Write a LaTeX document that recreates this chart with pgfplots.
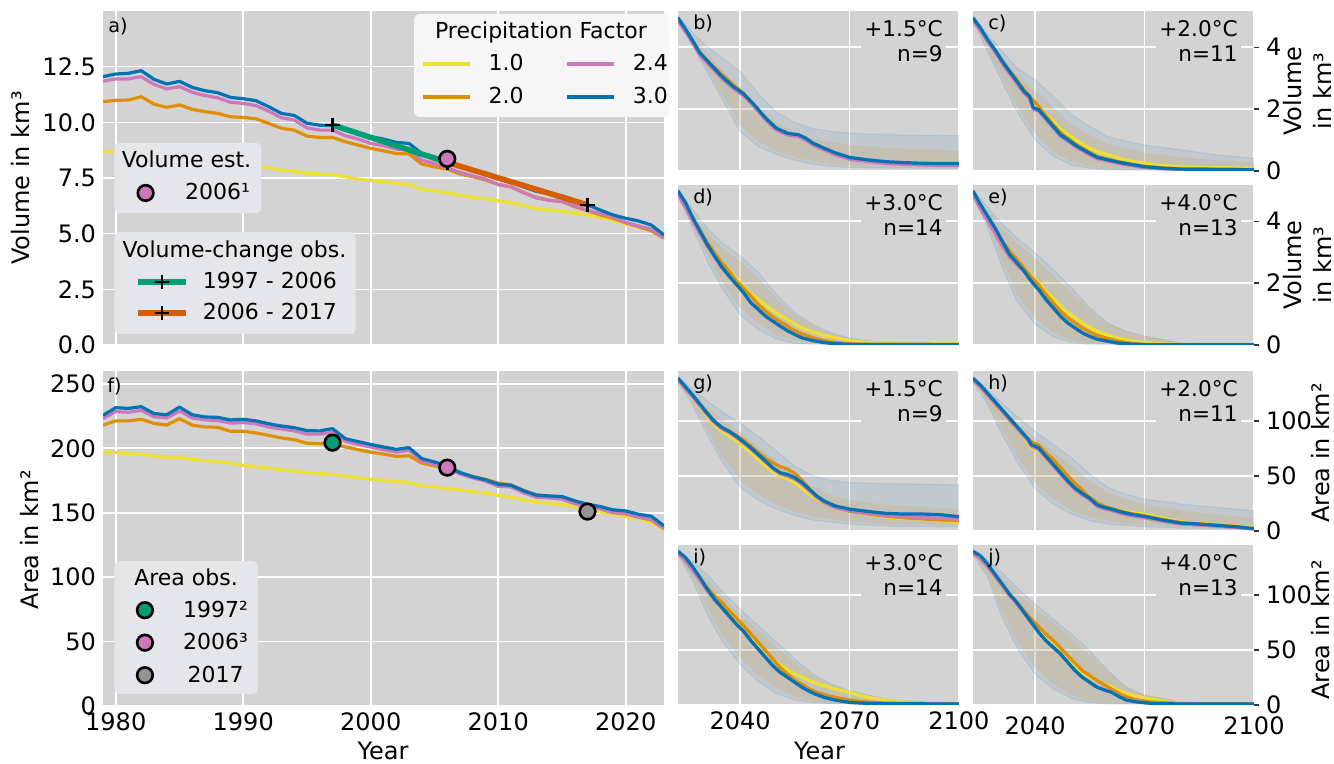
\documentclass[border=0pt]{standalone}
\usepackage{fontspec}
\setmainfont{DejaVu Sans}
\usepackage{pgfplots}
\usepackage{pgfplotstable}
\pgfplotsset{compat=1.18}

\definecolor{cyel}{HTML}{ECE133}
\definecolor{cora}{HTML}{DE8F05}
\definecolor{cpin}{HTML}{CC78BC}
\definecolor{cblu}{HTML}{0173B2}
\definecolor{cgrn}{HTML}{029E73}
\definecolor{cred}{HTML}{D55E00}
\definecolor{cgry}{HTML}{949494}
\definecolor{bg}{HTML}{D3D3D3}
\definecolor{legw}{HTML}{F6F6F6}
\definecolor{legg}{HTML}{E5E5EC}
\definecolor{bandO}{HTML}{2A78B0}
\definecolor{bandI}{HTML}{D0A858}

\tikzset{legf/.style={font=\fontsize{11}{13}\selectfont}}

% volume and area, 1979-2023, one column per precipitation factor
\pgfplotstableread{
yr   y10  y20   y24   y30
1979 8.68 10.93 11.85 12.05
1980 8.72 10.99 11.95 12.17
1981 8.72 11.00 11.95 12.20
1982 8.68 11.15 12.05 12.32
1983 8.58 10.82 11.70 11.93
1984 8.46 10.67 11.50 11.72
1985 8.46 10.78 11.60 11.84
1986 8.34 10.58 11.35 11.57
1987 8.23 10.48 11.20 11.42
1988 8.19 10.40 11.10 11.33
1989 8.10 10.25 10.90 11.12
1990 8.07 10.22 10.85 11.06
1991 8.04 10.16 10.75 10.97
1992 7.96 9.95  10.50 10.70
1993 7.86 9.73  10.20 10.40
1994 7.81 9.65  10.10 10.31
1995 7.71 9.38  9.75  9.96
1996 7.68 9.32  9.65  9.87
1997 7.65 9.32  9.65  9.85
1998 7.56 9.13  9.40  9.65
1999 7.45 8.98  9.25  9.50
2000 7.39 8.83  9.05  9.35
2001 7.33 8.72  8.95  9.25
2002 7.26 8.60  8.80  9.10
2003 7.21 8.58  8.75  9.05
2004 6.99 8.13  8.30  8.60
2005 6.92 8.00  8.15  8.45
2006 6.84 7.90  7.95  8.25
2007 6.73 7.68  7.75  8.00
2008 6.63 7.56  7.60  7.85
2009 6.57 7.41  7.45  7.70
2010 6.47 7.21  7.20  7.45
2011 6.39 7.10  7.10  7.35
2012 6.26 6.84  6.85  7.10
2013 6.12 6.63  6.60  6.90
2014 6.06 6.50  6.50  6.80
2015 6.02 6.44  6.45  6.70
2016 5.91 6.21  6.25  6.50
2017 5.84 6.03  6.05  6.30
2018 5.73 5.84  5.90  6.06
2019 5.61 5.69  5.75  5.84
2020 5.43 5.49  5.50  5.69
2021 5.31 5.31  5.35  5.57
2022 5.16 5.13  5.20  5.39
2023 4.79 4.79  4.80  4.94
}\volA

\pgfplotstableread{
yr   y10   y20   y24   y30
1979 196.7 218.0 223.0 225.6
1980 196.7 221.3 228.5 231.5
1981 195.9 221.3 228.0 231.0
1982 195.4 222.5 229.5 232.3
1983 194.0 219.3 224.5 227.0
1984 192.8 218.0 223.5 226.0
1985 193.0 223.0 229.0 232.0
1986 191.5 218.0 223.5 226.0
1987 190.4 216.6 222.0 224.3
1988 189.6 216.3 221.5 224.0
1989 188.4 213.2 219.5 222.0
1990 186.8 213.2 220.0 222.5
1991 185.8 211.9 219.0 221.3
1992 184.7 210.0 216.5 219.0
1993 183.2 208.0 215.0 217.3
1994 182.4 206.7 213.5 216.0
1995 181.1 204.0 211.0 213.7
1996 180.6 203.6 211.0 213.5
1997 179.8 203.6 212.5 215.3
1998 178.5 201.0 205.5 207.5
1999 177.2 199.0 203.0 205.2
2000 176.0 197.0 201.0 203.0
2001 175.2 195.5 199.0 201.0
2002 174.1 193.7 197.0 199.2
2003 173.4 194.2 198.5 200.5
2004 170.8 188.5 190.0 192.0
2005 170.0 186.4 187.5 189.4
2006 168.7 184.6 184.5 186.3
2007 167.7 180.6 180.0 181.2
2008 166.4 178.0 177.0 178.0
2009 165.0 176.0 174.5 175.5
2010 163.5 173.0 170.5 172.1
2011 162.2 171.6 170.0 171.3
2012 159.9 167.3 165.5 167.0
2013 158.4 163.9 162.0 163.6
2014 157.3 163.0 161.5 163.0
2015 156.6 162.0 160.5 162.6
2016 154.5 158.7 157.0 159.2
2017 152.7 156.0 154.5 156.6
2018 150.6 153.5 153.0 154.8
2019 148.8 151.0 150.0 152.2
2020 147.0 149.6 149.0 151.4
2021 145.0 147.0 146.5 148.8
2022 142.4 144.5 144.5 147.3
2023 136.7 138.0 137.5 139.8
}\areaF

\pgfplotsset{
  base/.style={scale only axis, anchor=south west,
    axis background/.style={fill=bg},
    axis line style={draw=none},
    grid=major, major grid style={white, line width=0.8pt},
    tick style={draw=none},
    tick label style={font=\fontsize{12}{14}\selectfont},
    /pgf/number format/assume math mode=true,
    /pgf/number format/1000 sep={}},
  geoA/.style={at={(51.5pt,209.5pt)}, anchor=south west, scale only axis,
    width=280.5pt, height=167pt, xmin=1979, xmax=2023, ymin=0, ymax=15},
  geoF/.style={at={(51.5pt,29pt)}, anchor=south west, scale only axis,
    width=280.5pt, height=167.5pt, xmin=1979, xmax=2023, ymin=0, ymax=260},
  ovl/.style={hide axis, clip=false},
  small/.style={base, width=140.5pt, height=80pt, xmin=2023, xmax=2100,
    xtick={2040,2070,2100}, xticklabels={}, yticklabels={}},
  vol/.style={ymin=0, ymax=5.17, ytick={0,2,4}},
  area/.style={ymin=0, ymax=145.5, ytick={0,50,100}},
  rside/.style={ytick pos=right, yticklabel pos=right, tick align=outside,
    major tick length=2.5pt, ytick style={draw=black!80, line width=0.6pt}},
  ly/.style={cyel, line width=1.6pt, line join=round},
  lo/.style={cora, line width=1.6pt, line join=round},
  lp/.style={cpin, line width=1.6pt, line join=round},
  lb/.style={cblu, line width=1.6pt, line join=round},
  bo/.style={draw=bandO, draw opacity=0.12, line width=0.6pt, fill=bandO, fill opacity=0.1},
  bi/.style={draw=none, fill=bandI, fill opacity=0.22},
  mk/.style={only marks, mark=*, mark size=3.9pt, mark options={fill=#1, draw=black, line width=1.3pt}},
}

\newcommand{\ann}[2]{\node[anchor=north east, align=right, fill=bg, inner sep=1.5pt,
  font=\fontsize{10.8}{12.5}\selectfont] at (rel axis cs:0.954,0.964) {#1\\n=#2};}
\newcommand{\plab}[1]{\node[anchor=north west, inner sep=0pt,
  font=\fontsize{9.6}{11}\selectfont] at (rel axis cs:0.053,0.975) {#1};}

\begin{document}
\begin{tikzpicture}
\useasboundingbox (0,0) rectangle (667pt,382pt);

% ---------- a) volume 1979-2023
\begin{axis}[geoA, base,
  xtick={1980,1990,...,2020}, xticklabels={},
  ytick={0,2.5,5,7.5,10,12.5},
  yticklabel style={/pgf/number format/.cd, fixed, fixed zerofill, precision=1}]
\addplot[ly] table[x=yr, y=y10] {\volA};
\addplot[lo] table[x=yr, y=y20] {\volA};
\addplot[lp] table[x=yr, y=y24] {\volA};
\addplot[lb] table[x=yr, y=y30] {\volA};
\addplot[cgrn, line width=2.8pt, mark=+, mark size=3.6pt, mark options={black, line width=1.25pt}]
  coordinates {(1997,9.88) (2006,8.2)};
\addplot[cred, line width=2.8pt, mark=+, mark size=3.6pt, mark options={black, line width=1.25pt}]
  coordinates {(2006,8.2) (2017,6.29)};
\addplot[mk=cpin] coordinates {(2006,8.36)};
\node[anchor=north west, inner sep=0pt, font=\fontsize{9.6}{11}\selectfont]
  at (rel axis cs:0.009,0.979) {a)};
\end{axis}

\begin{axis}[geoA, ovl,
  legend columns=2,
  legend style={at={(axis description cs:0.5668,0.7919)}, anchor=west, draw=none, fill=none,
    inner sep=0pt, legf, row sep=7.5pt, column sep=8.5pt,
    nodes={inner sep=0pt, text height=8pt, text depth=1pt},
    /tikz/every even column/.append style={column sep=21pt}},
  legend image code/.code={\draw[#1] (0pt,0pt) -- (23.5pt,0pt);}]
\fill[legw, rounded corners=2.5pt] (axis description cs:0.5544,0.6826) rectangle (axis description cs:1.0089,0.9910);
\node[anchor=base, legf] at (axis description cs:0.7807,0.9162) {Precipitation Factor};
\addlegendimage{cyel, line width=1.6pt}\addlegendentry{1.0}
\addlegendimage{cpin, line width=1.6pt}\addlegendentry{2.4}
\addlegendimage{cora, line width=1.6pt}\addlegendentry{2.0}
\addlegendimage{cblu, line width=1.6pt}\addlegendentry{3.0}
\end{axis}

\begin{axis}[geoA, ovl,
  legend style={at={(axis description cs:0.0613,0.4551)}, anchor=west, draw=none, fill=none,
    inner sep=0pt, legf, column sep=15.9pt,
    nodes={inner sep=0pt, text height=8pt, text depth=1pt}},
  legend image code/.code={\draw[#1] plot coordinates {(0pt,0pt)};}]
\fill[legg, rounded corners=2.5pt] (axis description cs:0.0205,0.3952) rectangle (axis description cs:0.2825,0.6048);
\node[anchor=base, legf] at (axis description cs:0.1488,0.5299) {Volume est.};
\addlegendimage{mk=cpin}
\addlegendentry{2006¹}
\end{axis}

\begin{axis}[geoA, ovl,
  legend style={at={(axis description cs:0.0570,0.1422)}, anchor=west, draw=none, fill=none,
    inner sep=0pt, legf, row sep=6.5pt, column sep=7pt,
    nodes={inner sep=0pt, text height=8pt, text depth=1pt}},
  legend image code/.code={\draw[#1] (0pt,0pt) -- (24pt,0pt);
    \draw[#1, only marks] plot coordinates {(12pt,0pt)};}]
\fill[legg, rounded corners=2.5pt] (axis description cs:0.0205,0.0329) rectangle (axis description cs:0.4501,0.3383);
\node[anchor=base, legf] at (axis description cs:0.2344,0.2605) {Volume-change obs.};
\addlegendimage{cgrn, line width=2.8pt, mark=+, mark size=3.6pt, mark options={black, line width=1.25pt}}
\addlegendentry{1997 - 2006}
\addlegendimage{cred, line width=2.8pt, mark=+, mark size=3.6pt, mark options={black, line width=1.25pt}}
\addlegendentry{2006 - 2017}
\end{axis}

% ---------- f) area 1979-2023
\begin{axis}[geoF, base,
  xtick={1980,1990,...,2020},
  ytick={0,50,...,250}]
\addplot[ly] table[x=yr, y=y10] {\areaF};
\addplot[lo] table[x=yr, y=y20] {\areaF};
\addplot[lp] table[x=yr, y=y24] {\areaF};
\addplot[lb] table[x=yr, y=y30] {\areaF};
\addplot[mk=cgrn] coordinates {(1997,204.4)};
\addplot[mk=cpin] coordinates {(2006,185)};
\addplot[mk=cgry] coordinates {(2017,150.9)};
\node[anchor=north west, inner sep=0pt, font=\fontsize{9.6}{11}\selectfont]
  at (rel axis cs:0.007,0.982) {f)};
\end{axis}

\begin{axis}[geoF, ovl,
  legend style={at={(axis description cs:0.0601,0.189)}, anchor=west, draw=none, fill=none,
    inner sep=0pt, legf, row sep=7.25pt, column sep=15.2pt,
    nodes={inner sep=0pt, text height=8pt, text depth=1pt}},
  legend image code/.code={\draw[#1] plot coordinates {(0pt,0pt)};}]
\fill[legg, rounded corners=2.5pt] (axis description cs:0.0205,0.0358) rectangle (axis description cs:0.2758,0.4328);
\node[anchor=base, legf] at (axis description cs:0.1480,0.3582) {Area obs.};
\addlegendimage{mk=cgrn}
\addlegendentry{1997²}
\addlegendimage{mk=cpin}
\addlegendentry{2006³}
\addlegendimage{mk=cgry}
\addlegendentry{2017}
\end{axis}

% ---------- b) volume +1.5
\begin{axis}[small, vol, at={(339pt,296.5pt)}]
\addplot[bo] coordinates {(2023,5.0)(2027,4.47)(2031,4.02)(2035,3.66)(2040,3.22)(2045,2.5)(2050,1.9)(2055,1.57)(2060,1.37)(2065,1.28)(2070,1.22)(2080,1.17)(2090,1.15)(2100,1.14)(2100,0.09)(2090,0.09)(2080,0.1)(2070,0.11)(2065,0.15)(2060,0.22)(2055,0.35)(2050,0.54)(2045,0.79)(2040,1.28)(2035,2.35)(2031,3.2)(2027,4.05)(2023,4.84)} -- cycle;
\addplot[bi] coordinates {(2023,4.97)(2027,4.35)(2031,3.8)(2035,3.3)(2040,2.7)(2045,2.05)(2050,1.55)(2055,1.25)(2060,1.05)(2065,0.93)(2070,0.85)(2080,0.75)(2090,0.7)(2100,0.65)(2100,0.12)(2090,0.12)(2080,0.14)(2070,0.17)(2065,0.22)(2060,0.3)(2055,0.45)(2050,0.65)(2045,0.95)(2040,1.45)(2035,2.5)(2031,3.3)(2027,4.1)(2023,4.86)} -- cycle;
\addplot[ly] coordinates {(2023,4.88)(2026,4.35)(2029,3.77)(2032,3.41)(2035,3.04)(2038,2.72)(2041,2.46)(2044,2.09)(2047,1.68)(2050,1.35)(2053,1.19)(2056,1.13)(2058,1.02)(2060,0.86)(2063,0.7)(2066,0.55)(2070,0.4)(2075,0.31)(2080,0.25)(2085,0.22)(2090,0.2)(2095,0.19)(2100,0.19)};
\addplot[lo] coordinates {(2023,4.9)(2026,4.38)(2029,3.8)(2032,3.45)(2035,3.12)(2038,2.8)(2041,2.5)(2044,2.12)(2047,1.7)(2050,1.37)(2053,1.21)(2056,1.15)(2058,1.04)(2060,0.88)(2063,0.72)(2066,0.57)(2070,0.42)(2075,0.33)(2080,0.27)(2085,0.24)(2090,0.22)(2095,0.21)(2100,0.21)};
\addplot[lp] coordinates {(2023,4.85)(2026,4.33)(2029,3.74)(2032,3.37)(2035,2.99)(2038,2.68)(2041,2.43)(2044,2.06)(2047,1.65)(2050,1.32)(2053,1.16)(2056,1.11)(2058,1.0)(2060,0.84)(2063,0.68)(2066,0.53)(2070,0.38)(2075,0.3)(2080,0.24)(2085,0.21)(2090,0.19)(2095,0.18)(2100,0.18)};
\addplot[lb] coordinates {(2023,4.95)(2026,4.41)(2029,3.82)(2032,3.44)(2035,3.06)(2038,2.74)(2041,2.49)(2044,2.12)(2047,1.71)(2050,1.38)(2053,1.22)(2056,1.17)(2058,1.06)(2060,0.9)(2063,0.74)(2066,0.59)(2070,0.44)(2075,0.36)(2080,0.3)(2085,0.27)(2090,0.25)(2095,0.24)(2100,0.24)};
\plab{b)}\ann{+1.5°C}{9}
\end{axis}

% ---------- c) volume +2.0
\begin{axis}[small, vol, rside, yticklabels={0,2,4}, at={(486.5pt,296.5pt)}]
\addplot[bo] coordinates {(2023,4.99)(2027,4.42)(2031,3.87)(2035,3.33)(2040,2.95)(2045,2.41)(2050,1.82)(2055,1.44)(2060,1.11)(2065,0.96)(2070,0.84)(2080,0.68)(2090,0.52)(2100,0.41)(2100,0.02)(2090,0.02)(2080,0.02)(2070,0.03)(2065,0.03)(2060,0.04)(2055,0.09)(2050,0.19)(2045,0.48)(2040,1.0)(2035,1.93)(2031,2.87)(2027,3.85)(2023,4.85)} -- cycle;
\addplot[bi] coordinates {(2023,4.95)(2027,4.3)(2031,3.7)(2035,3.1)(2040,2.6)(2045,2.05)(2050,1.5)(2055,1.15)(2060,0.88)(2065,0.72)(2070,0.6)(2080,0.45)(2090,0.35)(2100,0.28)(2100,0.03)(2090,0.03)(2080,0.04)(2070,0.05)(2065,0.06)(2060,0.08)(2055,0.15)(2050,0.3)(2045,0.62)(2040,1.2)(2035,2.1)(2031,3.0)(2027,3.95)(2023,4.87)} -- cycle;
\addplot[ly] coordinates {(2023,4.9)(2025,4.58)(2027,4.2)(2029,3.87)(2031,3.5)(2033,3.18)(2035,2.87)(2037,2.55)(2039,2.3)(2041,2.08)(2043,1.82)(2045,1.6)(2047,1.36)(2049,1.17)(2051,1.01)(2053,0.86)(2055,0.74)(2057,0.63)(2060,0.52)(2063,0.41)(2066,0.32)(2070,0.25)(2075,0.17)(2080,0.13)(2090,0.11)(2100,0.09)};
\addplot[lo] coordinates {(2023,4.92)(2025,4.6)(2027,4.22)(2029,3.9)(2031,3.55)(2033,3.24)(2035,2.95)(2037,2.62)(2039,2.35)(2040,2.22)(2041,2.08)(2043,1.78)(2045,1.5)(2047,1.24)(2049,1.06)(2051,0.88)(2053,0.74)(2055,0.6)(2057,0.47)(2060,0.38)(2063,0.3)(2066,0.23)(2070,0.15)(2075,0.1)(2080,0.07)(2090,0.06)(2100,0.05)};
\addplot[lp] coordinates {(2023,4.85)(2025,4.55)(2027,4.18)(2029,3.85)(2031,3.48)(2033,3.15)(2035,2.84)(2037,2.51)(2038.5,2.35)(2039.5,2.0)(2041,1.93)(2043,1.66)(2045,1.39)(2047,1.12)(2049,0.96)(2051,0.79)(2053,0.65)(2055,0.52)(2057,0.4)(2060,0.32)(2063,0.24)(2066,0.18)(2070,0.11)(2075,0.07)(2080,0.05)(2090,0.04)(2100,0.03)};
\addplot[lb] coordinates {(2023,4.95)(2025,4.63)(2027,4.25)(2029,3.92)(2031,3.55)(2033,3.22)(2035,2.9)(2037,2.57)(2038.5,2.41)(2039.5,2.05)(2041,1.98)(2043,1.71)(2045,1.44)(2047,1.17)(2049,1.01)(2051,0.84)(2053,0.7)(2055,0.57)(2057,0.44)(2060,0.36)(2063,0.28)(2066,0.22)(2070,0.14)(2075,0.09)(2080,0.06)(2090,0.05)(2100,0.04)};
\plab{c)}\ann{+2.0°C}{11}
\end{axis}

% ---------- d) volume +3.0
\begin{axis}[small, vol, at={(339pt,209.5pt)}]
\addplot[bo] coordinates {(2023,5.04)(2027,4.39)(2031,3.78)(2035,3.31)(2040,2.88)(2045,2.34)(2050,1.63)(2055,1.04)(2060,0.66)(2065,0.39)(2070,0.23)(2080,0.05)(2090,0.03)(2100,0.03)(2100,0.01)(2090,0.01)(2080,0.01)(2070,0.01)(2065,0.01)(2060,0.02)(2055,0.05)(2050,0.19)(2045,0.5)(2040,0.98)(2035,1.85)(2031,2.71)(2027,3.79)(2023,4.88)} -- cycle;
\addplot[bi] coordinates {(2023,5.0)(2027,4.3)(2031,3.65)(2035,3.15)(2040,2.7)(2045,2.15)(2050,1.5)(2055,0.98)(2060,0.63)(2065,0.38)(2070,0.23)(2080,0.06)(2090,0.03)(2100,0.03)(2100,0.02)(2090,0.02)(2080,0.02)(2070,0.02)(2065,0.03)(2060,0.06)(2055,0.14)(2050,0.33)(2045,0.68)(2040,1.2)(2035,2.05)(2031,2.9)(2027,3.9)(2023,4.9)} -- cycle;
\addplot[ly] coordinates {(2023,4.9)(2025,4.53)(2027,4.08)(2029,3.68)(2031,3.3)(2033,2.97)(2035,2.66)(2037,2.41)(2039,2.12)(2041,1.87)(2043,1.65)(2045,1.47)(2047,1.29)(2049,1.11)(2051,0.96)(2053,0.82)(2055,0.68)(2057,0.55)(2060,0.42)(2063,0.31)(2066,0.23)(2070,0.14)(2075,0.08)(2080,0.04)(2090,0.03)(2100,0.03)};
\addplot[lo] coordinates {(2023,4.92)(2025,4.55)(2027,4.1)(2029,3.7)(2031,3.32)(2033,2.98)(2035,2.66)(2037,2.39)(2039,2.06)(2041,1.83)(2043,1.58)(2045,1.31)(2047,1.09)(2049,0.91)(2051,0.75)(2053,0.61)(2055,0.46)(2057,0.36)(2060,0.23)(2063,0.14)(2066,0.08)(2070,0.04)(2075,0.02)(2100,0.02)};
\addplot[lp] coordinates {(2023,4.85)(2025,4.45)(2027,4.01)(2029,3.6)(2031,3.2)(2033,2.85)(2035,2.5)(2037,2.22)(2039,1.95)(2041,1.68)(2043,1.36)(2045,1.14)(2047,0.93)(2049,0.77)(2051,0.61)(2053,0.46)(2055,0.34)(2057,0.23)(2060,0.14)(2063,0.08)(2066,0.04)(2070,0.02)(2100,0.01)};
\addplot[lb] coordinates {(2023,4.98)(2025,4.61)(2027,4.12)(2029,3.69)(2031,3.25)(2033,2.88)(2035,2.52)(2037,2.23)(2039,1.96)(2041,1.69)(2043,1.36)(2045,1.15)(2047,0.93)(2049,0.77)(2051,0.61)(2053,0.46)(2055,0.34)(2057,0.23)(2060,0.14)(2063,0.08)(2066,0.04)(2070,0.02)(2100,0.01)};
\plab{d)}\ann{+3.0°C}{14}
\end{axis}

% ---------- e) volume +4.0
\begin{axis}[small, vol, rside, yticklabels={0,2,4}, at={(486.5pt,209.5pt)}]
\addplot[bo] coordinates {(2023,5.04)(2027,4.45)(2031,3.9)(2035,3.47)(2040,2.98)(2045,2.44)(2050,1.85)(2055,1.2)(2060,0.71)(2065,0.44)(2070,0.28)(2080,0.06)(2090,0.02)(2100,0.02)(2100,0.01)(2090,0.01)(2080,0.01)(2070,0.01)(2065,0.01)(2060,0.01)(2055,0.02)(2050,0.08)(2045,0.27)(2040,0.67)(2035,1.42)(2031,2.5)(2027,3.79)(2023,4.88)} -- cycle;
\addplot[bi] coordinates {(2023,5.0)(2027,4.35)(2031,3.75)(2035,3.3)(2040,2.8)(2045,2.25)(2050,1.7)(2055,1.12)(2060,0.7)(2065,0.45)(2070,0.3)(2080,0.08)(2090,0.03)(2100,0.02)(2100,0.02)(2090,0.02)(2080,0.02)(2070,0.02)(2065,0.02)(2060,0.02)(2055,0.05)(2050,0.15)(2045,0.4)(2040,0.85)(2035,1.65)(2031,2.7)(2027,3.9)(2023,4.9)} -- cycle;
\addplot[ly] coordinates {(2023,4.9)(2025,4.48)(2027,4.1)(2029,3.72)(2031,3.33)(2033,3.0)(2035,2.74)(2037,2.48)(2039,2.23)(2041,2.01)(2043,1.74)(2045,1.5)(2047,1.25)(2049,1.04)(2051,0.88)(2053,0.71)(2055,0.57)(2057,0.44)(2060,0.31)(2063,0.21)(2066,0.14)(2070,0.08)(2075,0.03)(2080,0.02)(2100,0.02)};
\addplot[lo] coordinates {(2023,4.92)(2025,4.5)(2027,4.12)(2029,3.75)(2031,3.36)(2033,3.04)(2035,2.77)(2037,2.48)(2039,2.19)(2041,1.94)(2043,1.63)(2045,1.36)(2047,1.09)(2049,0.88)(2051,0.71)(2053,0.55)(2055,0.42)(2057,0.31)(2060,0.21)(2063,0.12)(2066,0.06)(2070,0.02)(2075,0.01)(2100,0.01)};
\addplot[lp] coordinates {(2023,4.85)(2025,4.4)(2027,4.01)(2029,3.62)(2031,3.2)(2033,2.85)(2035,2.6)(2037,2.37)(2039,2.05)(2041,1.78)(2043,1.46)(2045,1.19)(2047,0.92)(2049,0.7)(2051,0.54)(2053,0.38)(2055,0.27)(2057,0.18)(2060,0.11)(2063,0.05)(2066,0.03)(2070,0.01)(2100,0.01)};
\addplot[lb] coordinates {(2023,4.98)(2025,4.55)(2027,4.17)(2029,3.79)(2031,3.36)(2033,2.93)(2035,2.66)(2037,2.39)(2039,2.06)(2041,1.79)(2043,1.47)(2045,1.2)(2047,0.93)(2049,0.71)(2051,0.55)(2053,0.39)(2055,0.28)(2057,0.19)(2060,0.12)(2063,0.06)(2066,0.03)(2070,0.01)(2100,0.01)};
\plab{e)}\ann{+4.0°C}{13}
\end{axis}

% ---------- g) area +1.5
\begin{axis}[small, area, at={(339pt,116.5pt)}]
\addplot[bo] coordinates {(2023,140.4)(2027,129.2)(2031,118.4)(2035,108.7)(2040,98.2)(2045,86.1)(2050,72.6)(2055,59)(2060,50)(2065,46)(2070,44)(2080,43)(2090,42.5)(2100,41.9)(2100,3.9)(2090,4.2)(2080,4.5)(2070,6.3)(2065,8)(2060,9.9)(2055,13.9)(2050,20)(2045,28)(2040,40)(2035,63.6)(2031,87.7)(2027,114.8)(2023,135.8)} -- cycle;
\addplot[bi] coordinates {(2023,139)(2027,126)(2031,113)(2035,102)(2040,90)(2045,77)(2050,63)(2055,50)(2060,40)(2065,33)(2070,28)(2080,24)(2090,22)(2100,20)(2100,5.5)(2090,6)(2080,6.5)(2070,8.5)(2065,10.5)(2060,13)(2055,17.5)(2050,24)(2045,33)(2040,46)(2035,68)(2031,92)(2027,117)(2023,136.5)} -- cycle;
\addplot[ly] coordinates {(2023,136.5)(2025,129)(2027,121.5)(2029,113)(2031,104.5)(2033,96.5)(2035,90.7)(2037,86.5)(2039,82.2)(2041,76.5)(2043,71)(2045,65)(2047,59)(2049,54)(2051,50)(2053,47.5)(2055,44)(2057,39)(2059,33.4)(2061,29)(2063,25.9)(2066,22)(2070,18.4)(2075,15)(2080,12.9)(2085,11.5)(2090,10.8)(2095,9.5)(2100,7.8)};
\addplot[lo] coordinates {(2023,137.5)(2025,130)(2027,122.5)(2029,114.5)(2031,106.5)(2033,99)(2035,94)(2037,91)(2039,87)(2041,82.5)(2043,77)(2045,71.5)(2047,66)(2049,62)(2051,58.4)(2053,56.3)(2055,52.4)(2057,46)(2059,38.5)(2061,31.5)(2063,26.5)(2066,21.5)(2070,18)(2075,15.5)(2080,13.5)(2085,12)(2090,11)(2095,10)(2100,9.3)};
\addplot[lp] coordinates {(2023,137)(2025,129.5)(2027,122)(2029,114)(2031,106)(2033,98.5)(2035,93)(2037,89.5)(2039,85)(2041,80)(2043,74.5)(2045,68.5)(2047,62.5)(2049,56.5)(2051,52)(2053,50)(2055,47)(2057,42.5)(2059,36.5)(2061,30.5)(2063,26)(2066,21.5)(2070,18.4)(2075,16)(2080,13.9)(2085,13)(2090,12.3)(2095,11.5)(2100,10.8)};
\addplot[lb] coordinates {(2023,139)(2025,131.3)(2027,123.8)(2029,115.4)(2031,107.2)(2033,99.7)(2035,94.3)(2037,90.7)(2039,86.1)(2041,81)(2043,75.6)(2045,69.6)(2047,63.6)(2049,57.5)(2051,53)(2053,51.5)(2055,48.5)(2057,44)(2059,38)(2061,31.9)(2063,27.4)(2066,22.9)(2070,19.9)(2075,17.8)(2080,16)(2085,15.4)(2090,15.4)(2095,14.8)(2100,13)};
\plab{g)}\ann{+1.5°C}{9}
\end{axis}

% ---------- h) area +2.0
\begin{axis}[small, area, rside, yticklabels={0,50,100}, at={(486.5pt,116.5pt)}]
\addplot[bo] coordinates {(2023,140.4)(2027,128.4)(2031,116.3)(2035,104.2)(2040,90.7)(2045,78.6)(2050,66.6)(2055,51.5)(2060,39.5)(2065,33.4)(2070,28.9)(2080,24.4)(2090,21.4)(2100,18.4)(2100,1.5)(2090,2.1)(2080,2.7)(2070,3.9)(2065,5)(2060,6.3)(2055,9.3)(2050,15.4)(2045,24.4)(2040,38.6)(2035,63.6)(2031,87.7)(2027,114.8)(2023,135.8)} -- cycle;
\addplot[bi] coordinates {(2023,139)(2027,125)(2031,111)(2035,99)(2040,85)(2045,72)(2050,59)(2055,45)(2060,35)(2065,29)(2070,24.5)(2080,19)(2090,15)(2100,12)(2100,2.5)(2090,3)(2080,4)(2070,5.5)(2065,7)(2060,9)(2055,12.5)(2050,19)(2045,29)(2040,44)(2035,68)(2031,92)(2027,117)(2023,136.5)} -- cycle;
\addplot[ly] coordinates {(2023,136.5)(2025,130.5)(2027,123)(2029,115.5)(2031,108)(2033,100.5)(2035,93)(2037,85.5)(2039,75.6)(2041,73)(2043,66)(2045,59)(2047,52)(2049,45)(2051,39)(2053,34)(2055,28.5)(2057,22.9)(2060,20.8)(2063,19)(2066,16.9)(2070,15.4)(2075,11.7)(2080,8.4)(2085,6.8)(2090,5.7)(2095,4.5)(2100,3.3)};
\addplot[lo] coordinates {(2023,137.5)(2025,131.5)(2027,124)(2029,116.5)(2031,109)(2033,101.5)(2035,94)(2037,87)(2039,81)(2041,78)(2043,71)(2045,65)(2047,57.5)(2049,50)(2051,43)(2053,37)(2055,30.4)(2057,25.9)(2059,22.5)(2061,20.5)(2063,18.5)(2066,16)(2070,13.8)(2075,10.5)(2080,7.8)(2085,6.5)(2090,5.3)(2095,4)(2100,2.4)};
\addplot[lp] coordinates {(2023,137)(2025,131)(2027,123.5)(2029,116)(2031,108.5)(2033,101)(2035,93.5)(2037,86)(2038,82.5)(2039,77)(2041,74)(2043,66.5)(2045,59)(2047,51.5)(2049,44)(2051,37.5)(2053,32.5)(2055,28.5)(2057,22.5)(2059,20)(2061,18.5)(2063,16.5)(2066,14)(2070,12)(2075,8.8)(2080,6.3)(2085,5.4)(2090,4.3)(2095,3.2)(2100,1.7)};
\addplot[lb] coordinates {(2023,138.9)(2025,132.8)(2027,125.3)(2029,117.8)(2031,110.2)(2033,102.7)(2035,95.2)(2037,87.7)(2038,84)(2039,78.6)(2041,75.6)(2043,68)(2045,60.5)(2047,53)(2049,45.5)(2051,38.9)(2053,34)(2055,29.8)(2057,23.8)(2059,21.4)(2061,19.9)(2063,17.8)(2066,15.4)(2070,13.3)(2075,9.9)(2080,7.2)(2085,6.3)(2090,5.1)(2095,3.9)(2100,2.1)};
\plab{h)}\ann{+2.0°C}{11}
\end{axis}

% ---------- i) area +3.0
\begin{axis}[small, area, xticklabels={2040,2070,2100}, at={(339pt,29.5pt)}]
\addplot[bo] coordinates {(2023,141.8)(2027,130.5)(2031,118.6)(2035,104)(2040,87.3)(2045,72.1)(2050,57)(2055,41.8)(2060,28.2)(2065,19.1)(2070,13)(2080,5.5)(2090,2.7)(2100,1.8)(2100,0.9)(2090,0.9)(2080,1)(2070,1.1)(2065,1.5)(2060,2.1)(2055,4.5)(2050,10.4)(2045,21.4)(2040,36.9)(2035,58.5)(2031,82.7)(2027,113)(2023,137.3)} -- cycle;
\addplot[bi] coordinates {(2023,140)(2027,127)(2031,114)(2035,100)(2040,83)(2045,68)(2050,53)(2055,39)(2060,27)(2065,18.5)(2070,12.5)(2080,5.5)(2090,2.8)(2100,1.8)(2100,1)(2090,1)(2080,1.1)(2070,1.3)(2065,2)(2060,3.5)(2055,7.5)(2050,15)(2045,27)(2040,43)(2035,64)(2031,88)(2027,116)(2023,137.8)} -- cycle;
\addplot[ly] coordinates {(2023,137)(2025,131)(2027,123)(2029,114.5)(2031,105.5)(2033,97.3)(2035,90.3)(2037,83.3)(2039,76.7)(2041,70)(2043,63)(2045,55.5)(2047,47.9)(2049,41.8)(2051,36.7)(2053,31.8)(2055,28.2)(2057,25.2)(2059,22.1)(2061,19.7)(2063,17.6)(2066,14.5)(2070,11.5)(2073,8.5)(2076,6.4)(2080,4.5)(2085,2.7)(2090,1.8)(2100,1.2)};
\addplot[lo] coordinates {(2023,138)(2025,132)(2027,124)(2029,115.5)(2031,106.5)(2033,99.4)(2035,93.3)(2037,85.8)(2039,79)(2041,72)(2043,64.5)(2045,57)(2047,49.4)(2049,41.8)(2051,34.2)(2053,28.2)(2055,22.7)(2057,18.5)(2059,14.5)(2061,11.5)(2063,9.4)(2066,7)(2070,4.5)(2075,2.7)(2080,1.8)(2100,1.2)};
\addplot[lp] coordinates {(2023,137.5)(2025,131)(2027,122.5)(2029,113.5)(2031,104)(2033,95.5)(2035,88)(2037,80.5)(2039,73)(2041,66.5)(2043,58)(2045,50.5)(2047,43)(2049,35.5)(2051,29.5)(2053,25)(2055,20.5)(2057,16)(2059,12.3)(2061,9.3)(2063,6.9)(2066,4.4)(2070,2.3)(2075,1.4)(2080,1.1)(2100,0.8)};
\addplot[lb] coordinates {(2023,139.7)(2025,134.2)(2027,125.8)(2029,116)(2031,105.5)(2033,96.4)(2035,88.8)(2037,81.2)(2039,73.6)(2041,67)(2043,58.5)(2045,50.9)(2047,43.3)(2049,35.8)(2051,29.7)(2053,25.2)(2055,20.6)(2057,16.1)(2059,12.4)(2061,9.4)(2063,7)(2066,4.5)(2070,2.4)(2075,1.5)(2080,1.2)(2100,0.9)};
\plab{i)}\ann{+3.0°C}{14}
\end{axis}

% ---------- j) area +4.0
\begin{axis}[small, area, rside, yticklabels={0,50,100}, xticklabels={2040,2070,2100}, at={(486.5pt,29.5pt)}]
\addplot[bo] coordinates {(2023,141.8)(2027,132)(2031,120.3)(2035,107)(2040,91.8)(2045,78.2)(2050,64.5)(2055,49.4)(2060,31.2)(2065,16.1)(2070,8.5)(2080,2.7)(2090,1.5)(2100,1.2)(2100,0.9)(2090,0.9)(2080,0.9)(2070,0.9)(2065,0.9)(2060,1)(2055,2.1)(2050,5.9)(2045,14.5)(2040,28.2)(2035,52.4)(2031,79.7)(2027,116)(2023,137.3)} -- cycle;
\addplot[bi] coordinates {(2023,140)(2027,128)(2031,116)(2035,103)(2040,88)(2045,75)(2050,61)(2055,46)(2060,30)(2065,17)(2070,9.5)(2080,3.5)(2090,1.6)(2100,1.2)(2100,1)(2090,1)(2080,1)(2070,1)(2065,1.1)(2060,1.5)(2055,3.5)(2050,9)(2045,19)(2040,34)(2035,58)(2031,85)(2027,118)(2023,137.8)} -- cycle;
\addplot[ly] coordinates {(2023,137)(2025,132.5)(2027,125)(2029,116.5)(2031,108)(2033,99.5)(2035,92)(2037,84)(2039,76.7)(2041,70)(2043,63)(2045,57)(2047,49.4)(2049,41.8)(2051,34.2)(2053,28.8)(2055,25.2)(2057,22.1)(2059,19.1)(2061,16.1)(2063,13)(2066,9.4)(2070,6.4)(2075,3.3)(2080,1.8)(2090,1.3)(2100,1.3)};
\addplot[lo] coordinates {(2023,138)(2025,133.5)(2027,126)(2029,117.5)(2031,109)(2033,100.5)(2035,93.5)(2037,85.5)(2039,78.2)(2041,71.2)(2043,64.5)(2045,58.5)(2047,51.8)(2049,44.8)(2051,37.9)(2053,31.2)(2055,26.7)(2057,22.1)(2059,18.5)(2061,14.5)(2063,10.6)(2065,7.6)(2068,4.5)(2072,2.7)(2080,1.3)(2100,1.1)};
\addplot[lp] coordinates {(2023,137.5)(2025,133)(2027,125.5)(2029,117)(2031,108.5)(2033,99.5)(2035,92)(2037,83.5)(2039,74.8)(2041,66)(2043,58.3)(2045,52.2)(2047,46.2)(2049,38.6)(2051,31)(2053,25)(2055,20.5)(2057,16.5)(2059,14)(2061,12)(2063,8)(2065,4.8)(2068,2.8)(2072,1.5)(2080,0.9)(2100,0.9)};
\addplot[lb] coordinates {(2023,139.7)(2025,135.8)(2027,128.2)(2029,119.1)(2031,110)(2033,100.9)(2035,93.3)(2037,84.2)(2039,75.2)(2041,66.1)(2043,58.5)(2045,52.4)(2047,46.4)(2049,38.8)(2051,31.2)(2053,25.2)(2055,20.6)(2057,16.1)(2059,13.6)(2061,11.5)(2063,7.6)(2065,4.5)(2068,2.7)(2072,1.5)(2080,0.9)(2100,0.9)};
\plab{j)}\ann{+4.0°C}{13}
\end{axis}

% ---------- axis labels
\node[rotate=90, font=\fontsize{12}{14}\selectfont] at (10.5pt,293pt) {Volume in km³};
\node[rotate=90, font=\fontsize{12}{14}\selectfont] at (15pt,112pt) {Area in km²};
\node[anchor=base, font=\fontsize{12}{14}\selectfont] at (191.5pt,2pt) {Year};
\node[anchor=base, font=\fontsize{12}{14}\selectfont] at (409.75pt,2pt) {Year};
\node[rotate=90, align=center, inner sep=0pt, font=\fontsize{12}{15}\selectfont] at (653.5pt,336.5pt) {Volume\\in km³};
\node[rotate=90, align=center, inner sep=0pt, font=\fontsize{12}{15}\selectfont] at (653.5pt,249.5pt) {Volume\\in km³};
\node[rotate=90, inner sep=0pt, font=\fontsize{12}{14}\selectfont] at (660.5pt,155.5pt) {Area in km²};
\node[rotate=90, inner sep=0pt, font=\fontsize{12}{14}\selectfont] at (660.5pt,67pt) {Area in km²};
\end{tikzpicture}
\end{document}
